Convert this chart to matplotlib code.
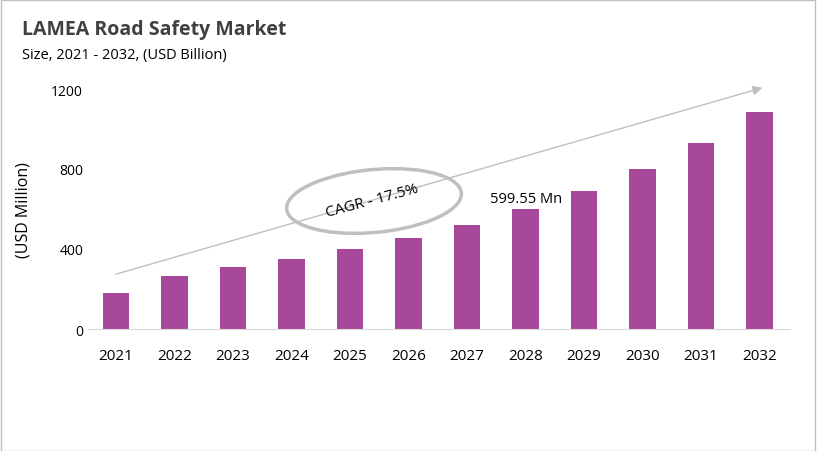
import matplotlib.pyplot as plt
from matplotlib.patches import Ellipse, FancyArrowPatch, Rectangle

years = ['2021', '2022', '2023', '2024', '2025', '2026', '2027', '2028', '2029', '2030', '2031', '2032']
values = [180, 265, 310, 350, 400, 455, 520, 600, 690, 800, 930, 1085]

plt.rcParams['font.family'] = ['Open Sans', 'DejaVu Sans']
W, H = 817, 452
fig = plt.figure(figsize=(W / 100, H / 100), dpi=100)
fig.patches.append(Rectangle((0.001, 0.001), 0.997, 0.997, transform=fig.transFigure,
                             fill=False, edgecolor='#bfbfbf', linewidth=1))

ax = fig.add_axes([88 / W, 1 - 330 / H, 702 / W, 240 / H])
ax.bar(years, values, width=0.45, color='#a8489a')
ax.set_xlim(-0.48, 11.52)
ax.set_ylim(0, 1200)
ax.set_yticks([0, 400, 800, 1200])
ax.tick_params(length=0, labelsize=10)
ax.tick_params(axis='x', pad=14, labelsize=11)
for s in ['top', 'right', 'left']:
    ax.spines[s].set_visible(False)
ax.spines['bottom'].set_color('#d9d9d9')
ax.set_ylabel('(USD Million)', fontsize=11.5, labelpad=14)
ax.text(7, values[7] + 15, '599.55 Mn', ha='center', va='bottom', fontsize=10.5)

fig.text(22 / W, 1 - 30 / H, 'LAMEA Road Safety Market', fontsize=14, fontweight='bold',
         color='#404040', va='center')
fig.text(22 / W, 1 - 55 / H, 'Size, 2021 - 2032, (USD Billion)', fontsize=10.5, va='center')

fig.patches.append(FancyArrowPatch((113 / W, 1 - 276 / H), (765 / W, 1 - 88 / H),
                                   transform=fig.transFigure, arrowstyle='-|>', mutation_scale=14,
                                   color='#bfbfbf', linewidth=1))
fig.patches.append(Ellipse((374 / W, 1 - 202 / H), 178 / W, 62 / H, angle=14,
                           transform=fig.transFigure, fill=False, edgecolor='#bfbfbf', linewidth=2.5))
fig.text(372 / W, 1 - 201 / H, 'CAGR - 17.5%', fontsize=11, rotation=15, ha='center', va='center')

fig.savefig('out.png', dpi=100)
